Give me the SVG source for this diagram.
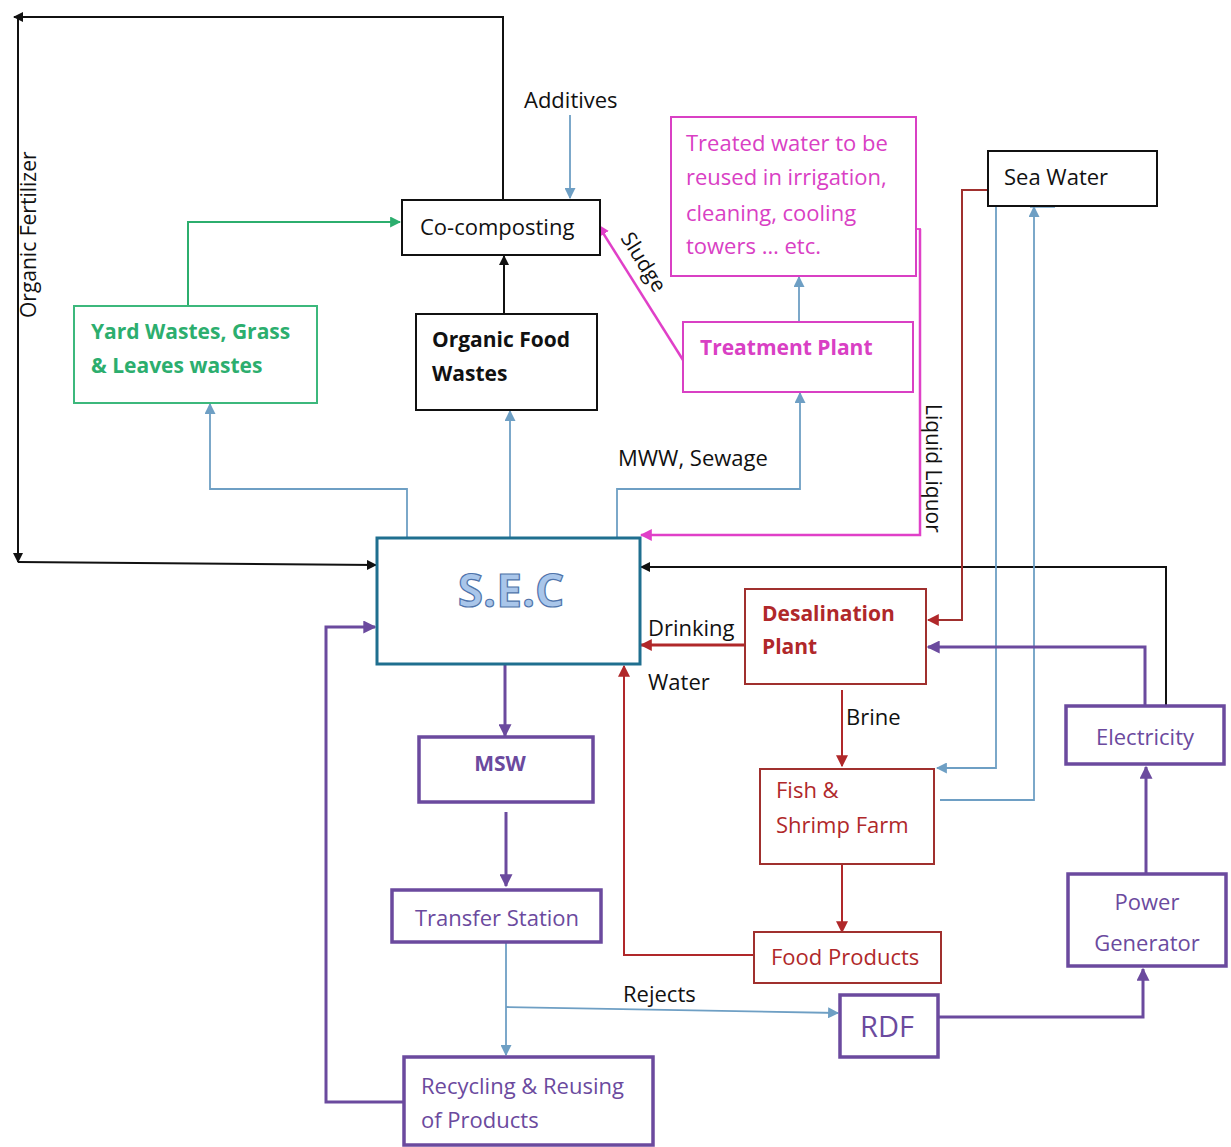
<svg xmlns="http://www.w3.org/2000/svg" width="1231" height="1147" viewBox="0 0 1231 1147">
<style>
  text { font-family: "Open Sans", "Noto Sans", "Liberation Sans", sans-serif; font-size: 22px; }
  .box { fill: #fff; }
  .k { fill: #111; }
  .bold { font-weight: bold; font-size: 21px; }
  .green { fill: #2cae6e; }
  .mag { fill: #d940c4; }
  .red { fill: #b0282a; }
  .purple { fill: #6b4a9e; }
  .ln { fill: none; }
  .rot { font-size: 21px; }
  .sec { font-size: 46px; font-weight: bold; fill: #a9c6ea; stroke: #4e73aa; stroke-width: 1.2; }
  .rdf { font-size: 29px; }
</style>
<defs>
  <marker id="aK" viewBox="0 0 10 10" refX="9" refY="5" markerWidth="10" markerHeight="10" markerUnits="userSpaceOnUse" orient="auto"><path d="M0,0 L10,5 L0,10 z" fill="#111"/></marker>
  <marker id="aB" viewBox="0 0 10 10" refX="9" refY="5" markerWidth="11" markerHeight="11" markerUnits="userSpaceOnUse" orient="auto"><path d="M0,0 L10,5 L0,10 z" fill="#6e9fc4"/></marker>
  <marker id="aG" viewBox="0 0 10 10" refX="9" refY="5" markerWidth="11" markerHeight="11" markerUnits="userSpaceOnUse" orient="auto"><path d="M0,0 L10,5 L0,10 z" fill="#2cae6e"/></marker>
  <marker id="aM" viewBox="0 0 10 10" refX="9" refY="5" markerWidth="12" markerHeight="12" markerUnits="userSpaceOnUse" orient="auto"><path d="M0,0 L10,5 L0,10 z" fill="#e040c8"/></marker>
  <marker id="aR" viewBox="0 0 10 10" refX="9" refY="5" markerWidth="12" markerHeight="12" markerUnits="userSpaceOnUse" orient="auto"><path d="M0,0 L10,5 L0,10 z" fill="#b0282a"/></marker>
  <marker id="aP" viewBox="0 0 10 10" refX="9" refY="5" markerWidth="13" markerHeight="13" markerUnits="userSpaceOnUse" orient="auto"><path d="M0,0 L10,5 L0,10 z" fill="#6b4a9e"/></marker>
</defs>

<g id="connectors">
  <!-- Organic fertilizer loop -->
  <polyline class="ln" points="503,200 503,17 14,17" stroke="#111" stroke-width="2" marker-end="url(#aK)"/>
  <polyline class="ln" points="18,17 18,562" stroke="#111" stroke-width="2" marker-end="url(#aK)"/>
  <polyline class="ln" points="18,562 376,565" stroke="#111" stroke-width="2" marker-end="url(#aK)"/>
  <!-- Additives -->
  <line x1="570" y1="115" x2="570" y2="198" stroke="#6e9fc4" stroke-width="1.8" marker-end="url(#aB)"/>
  <!-- Yard -> co-composting -->
  <polyline class="ln" points="188,306 188,222 400,222" stroke="#2cae6e" stroke-width="2" marker-end="url(#aG)"/>
  <!-- Organic food -> co-composting -->
  <line x1="504" y1="314" x2="504" y2="256" stroke="#111" stroke-width="2" marker-end="url(#aK)"/>
  <!-- Sludge -->
  <line x1="683" y1="360" x2="598" y2="225" stroke="#e040c8" stroke-width="2.5" marker-end="url(#aM)"/>
  <!-- Treatment -> treated water -->
  <line x1="799" y1="322" x2="799" y2="277" stroke="#6e9fc4" stroke-width="1.8" marker-end="url(#aB)"/>
  <!-- Liquid liquor -->
  <line x1="910" y1="229" x2="921" y2="229" stroke="#e040c8" stroke-width="1.8"/>
  <polyline class="ln" points="920,229 920,535 641,535" stroke="#e040c8" stroke-width="2.5" marker-end="url(#aM)"/>
  <!-- SEC up lines -->
  <polyline class="ln" points="407,538 407,489 210,489 210,404" stroke="#6e9fc4" stroke-width="1.8" marker-end="url(#aB)"/>
  <line x1="510" y1="538" x2="510" y2="411" stroke="#6e9fc4" stroke-width="1.8" marker-end="url(#aB)"/>
  <polyline class="ln" points="617,538 617,489 800,489 800,393" stroke="#6e9fc4" stroke-width="1.8" marker-end="url(#aB)"/>
  <!-- Electricity -> SEC (black) -->
  <polyline class="ln" points="1166,706 1166,567 641,567" stroke="#111" stroke-width="2" marker-end="url(#aK)"/>
  <!-- Sea water -> desalination -->
  <polyline class="ln" points="990,190 962,190 962,620 928,620" stroke="#a0302e" stroke-width="2" marker-end="url(#aR)"/>
  <!-- Sea water -> fish farm -->
  <polyline class="ln" points="996,207 996,768 937,768" stroke="#6e9fc4" stroke-width="1.8" marker-end="url(#aB)"/>
  <!-- Fish farm -> sea water -->
  <polyline class="ln" points="940,800 1034,800 1034,207" stroke="#6e9fc4" stroke-width="1.8" marker-end="url(#aB)"/>
  <line x1="1030" y1="207" x2="1055" y2="207" stroke="#6e9fc4" stroke-width="1.5"/>
  <!-- Drinking water -->
  <line x1="745" y1="645" x2="641" y2="645" stroke="#b0282a" stroke-width="3" marker-end="url(#aR)"/>
  <!-- Brine -->
  <line x1="842" y1="690" x2="842" y2="766" stroke="#b0282a" stroke-width="2" marker-end="url(#aR)"/>
  <!-- Fish -> food -->
  <line x1="842" y1="864" x2="842" y2="932" stroke="#b0282a" stroke-width="2" marker-end="url(#aR)"/>
  <!-- Food -> SEC -->
  <polyline class="ln" points="754,955 624,955 624,666" stroke="#b0282a" stroke-width="2" marker-end="url(#aR)"/>
  <!-- Electricity -> desalination -->
  <polyline class="ln" points="1145,706 1145,647 928,647" stroke="#6b4a9e" stroke-width="3" marker-end="url(#aP)"/>
  <!-- Power gen -> electricity -->
  <line x1="1146" y1="874" x2="1146" y2="767" stroke="#6b4a9e" stroke-width="3" marker-end="url(#aP)"/>
  <!-- RDF -> power gen -->
  <polyline class="ln" points="938,1017 1143,1017 1143,969" stroke="#6b4a9e" stroke-width="3" marker-end="url(#aP)"/>
  <!-- SEC -> MSW -->
  <line x1="505" y1="665" x2="505" y2="736" stroke="#6b4a9e" stroke-width="3" marker-end="url(#aP)"/>
  <!-- MSW -> transfer -->
  <line x1="506" y1="812" x2="506" y2="886" stroke="#6b4a9e" stroke-width="3" marker-end="url(#aP)"/>
  <!-- Transfer -> recycling -->
  <line x1="506" y1="942" x2="506" y2="1055" stroke="#6e9fc4" stroke-width="1.8" marker-end="url(#aB)"/>
  <!-- Rejects -> RDF -->
  <line x1="506" y1="1007" x2="838" y2="1013" stroke="#6e9fc4" stroke-width="1.8" marker-end="url(#aB)"/>
  <!-- Recycling -> SEC -->
  <polyline class="ln" points="404,1102 326,1102 326,627 375,627" stroke="#6b4a9e" stroke-width="3" marker-end="url(#aP)"/>
</g>

<g id="labels">
  <text class="k rot" x="0" y="0" transform="translate(36,318) rotate(-90)">Organic Fertilizer</text>
  <text class="k" x="524" y="108">Additives</text>
  <text class="k rot" x="0" y="0" transform="translate(620,238) rotate(57.8)">Sludge</text>
  <text class="k" x="618" y="466">MWW, Sewage</text>
  <text class="k rot" x="0" y="0" transform="translate(926,404) rotate(90)">Liquid Liquor</text>
  <text class="k" x="648" y="636">Drinking</text>
  <text class="k" x="648" y="690">Water</text>
  <text class="k" x="846" y="725">Brine</text>
  <text class="k" x="623" y="1002">Rejects</text>
</g>

<g id="co-composting">
  <rect class="box" x="402" y="200" width="198" height="55" stroke="#111" stroke-width="2"/>
  <text class="k" x="420" y="235">Co-composting</text>
</g>
<g id="yard-wastes">
  <rect class="box" x="74" y="306" width="243" height="97" stroke="#3cb87c" stroke-width="2"/>
  <text class="green bold" x="91" y="339">Yard Wastes, Grass</text>
  <text class="green bold" x="91" y="373">&amp; Leaves wastes</text>
</g>
<g id="organic-food">
  <rect class="box" x="416" y="314" width="181" height="96" stroke="#111" stroke-width="2"/>
  <text class="k bold" x="432" y="347">Organic Food</text>
  <text class="k bold" x="432" y="381">Wastes</text>
</g>
<g id="treated-water">
  <rect class="box" x="671" y="117" width="245" height="159" stroke="#d940c4" stroke-width="2"/>
  <text class="mag" x="686" y="151">Treated water to be</text>
  <text class="mag" x="686" y="185">reused in irrigation,</text>
  <text class="mag" x="686" y="221">cleaning, cooling</text>
  <text class="mag" x="686" y="254">towers … etc.</text>
</g>
<g id="treatment-plant">
  <rect class="box" x="683" y="322" width="230" height="70" stroke="#d940c4" stroke-width="2"/>
  <text class="mag bold" x="700" y="355">Treatment Plant</text>
</g>
<g id="sea-water">
  <rect class="box" x="988" y="151" width="169" height="55" stroke="#111" stroke-width="2"/>
  <text class="k" x="1004" y="185">Sea Water</text>
</g>
<g id="sec">
  <rect class="box" x="377" y="538" width="263" height="126" stroke="#1f6f8f" stroke-width="3"/>
  <text class="sec" x="511" y="607" text-anchor="middle">S.E.C</text>
</g>
<g id="desalination">
  <rect class="box" x="745" y="589" width="181" height="95" stroke="#a0302e" stroke-width="2"/>
  <text class="red bold" x="762" y="621">Desalination</text>
  <text class="red bold" x="762" y="654">Plant</text>
</g>
<g id="fish-farm">
  <rect class="box" x="760" y="769" width="174" height="95" stroke="#a0302e" stroke-width="2"/>
  <text class="red" x="776" y="798">Fish &amp;</text>
  <text class="red" x="776" y="833">Shrimp Farm</text>
</g>
<g id="food-products">
  <rect class="box" x="754" y="932" width="187" height="51" stroke="#a0302e" stroke-width="2"/>
  <text class="red" x="771" y="965">Food Products</text>
</g>
<g id="electricity">
  <rect class="box" x="1066" y="706" width="158" height="58" stroke="#6b4a9e" stroke-width="3.5"/>
  <text class="purple" x="1145" y="745" text-anchor="middle">Electricity</text>
</g>
<g id="power-generator">
  <rect class="box" x="1068" y="874" width="158" height="92" stroke="#6b4a9e" stroke-width="3.5"/>
  <text class="purple" x="1147" y="910" text-anchor="middle">Power</text>
  <text class="purple" x="1147" y="951" text-anchor="middle">Generator</text>
</g>
<g id="rdf">
  <rect class="box" x="840" y="995" width="98" height="62" stroke="#6b4a9e" stroke-width="3.5"/>
  <text class="purple rdf" x="887" y="1037" text-anchor="middle">RDF</text>
</g>
<g id="msw">
  <rect class="box" x="419" y="737" width="174" height="65" stroke="#6b4a9e" stroke-width="3.5"/>
  <text class="purple bold" x="500" y="771" text-anchor="middle">MSW</text>
</g>
<g id="transfer-station">
  <rect class="box" x="392" y="890" width="209" height="52" stroke="#6b4a9e" stroke-width="3.5"/>
  <text class="purple" x="497" y="926" text-anchor="middle">Transfer Station</text>
</g>
<g id="recycling">
  <rect class="box" x="404" y="1057" width="249" height="88" stroke="#6b4a9e" stroke-width="3.5"/>
  <text class="purple" x="421" y="1094">Recycling &amp; Reusing</text>
  <text class="purple" x="421" y="1128">of Products</text>
</g>
</svg>
